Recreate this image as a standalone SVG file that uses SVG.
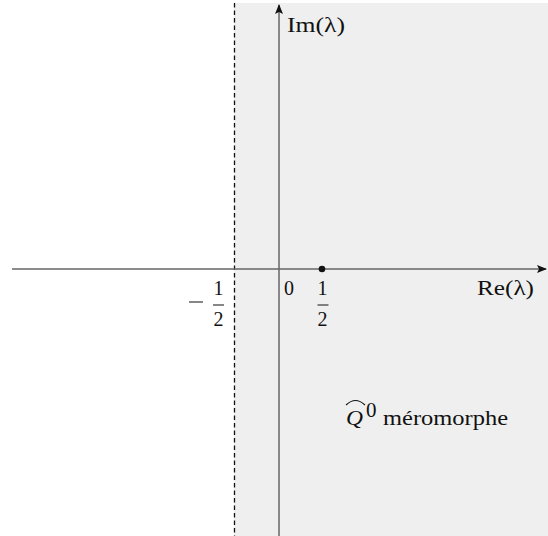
<svg xmlns="http://www.w3.org/2000/svg" width="548" height="536" viewBox="0 0 548 536">
<style>
.t{font-family:"Liberation Serif","DejaVu Serif",serif;font-size:21px;fill:#111}
.d{font-family:"Liberation Serif","DejaVu Serif",serif;font-size:20px;fill:#111;text-anchor:middle}
.ax{stroke:#666;stroke-width:1.5;fill:none}
.bar{stroke:#111;stroke-width:1}
</style>
<defs>
<marker id="ar" viewBox="0 0 10 8" refX="9" refY="4" markerWidth="10" markerHeight="8" markerUnits="userSpaceOnUse" orient="auto">
<path d="M0,0 L10,4 L0,8 L2,4 Z" fill="#111"/>
</marker>
</defs>
<g id="region">
<rect x="234" y="3" width="314" height="533" fill="#efefef"/>
<line x1="234.5" y1="3" x2="234.5" y2="536" stroke="#111" stroke-width="1.3" stroke-dasharray="4.5,3"/>
</g>
<g id="connectors">
<line class="ax" x1="12" y1="269" x2="546" y2="269" marker-end="url(#ar)"/>
<line class="ax" x1="279" y1="536" x2="279" y2="5" marker-end="url(#ar)"/>
</g>
<g id="labels">
<text class="t" x="287" y="32" textLength="58" lengthAdjust="spacingAndGlyphs">Im(λ)</text>
<text class="t" x="477" y="295" textLength="57" lengthAdjust="spacingAndGlyphs">Re(λ)</text>
<text class="d" x="289" y="295">0</text>
<circle cx="322" cy="269" r="3.3" fill="#111"/>
<text class="d" x="322.5" y="295">1</text>
<line class="bar" x1="317.5" y1="305" x2="328.5" y2="305"/>
<text class="d" x="322.5" y="326">2</text>
<line class="bar" x1="189" y1="302" x2="203" y2="302"/>
<text class="d" x="218.5" y="295">1</text>
<line class="bar" x1="213" y1="305" x2="224" y2="305"/>
<text class="d" x="218.5" y="326">2</text>
<path d="M346,405 Q355.5,396 365,405" stroke="#111" stroke-width="1.1" fill="none"/>
<text class="t" x="346" y="425" font-style="italic" font-size="22" textLength="17" lengthAdjust="spacingAndGlyphs">Q</text>
<text class="t" x="366" y="417" font-size="12">0</text>
<text class="t" x="383" y="425" textLength="125" lengthAdjust="spacingAndGlyphs">méromorphe</text>
</g>
</svg>
